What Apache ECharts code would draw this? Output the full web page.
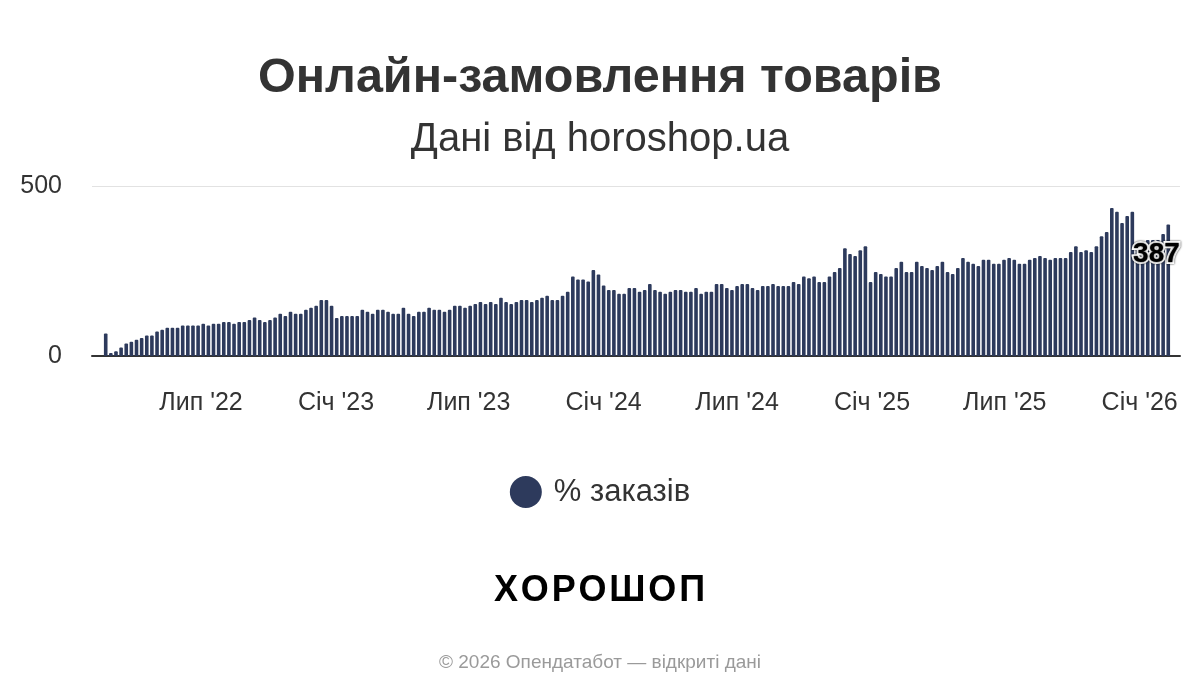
<!DOCTYPE html>
<html>
<head>
<meta charset="utf-8">
<script src="https://cdn.jsdelivr.net/npm/echarts@6/dist/echarts.min.js"></script>
<style>
  html, body { margin: 0; padding: 0; background: #fff; }
  #chart { width: 1200px; height: 700px; }
</style>
</head>
<body>
<div id="chart"></div>
<script>
// ---- Data ----
const titleText = 'Онлайн-замовлення товарів';
const subtitleText = 'Дані від horoshop.ua';
const seriesName = '% заказів';
const logoText = 'ХОРОШОП';
const footerText = '© 2026 Опендатабот — відкриті дані';
const firstWeek = [2022, 1, 21]; // year, monthIndex, day of first weekly bar
const orderValues = [
  66, 9, 14, 25, 37, 42, 48, 53, 60, 60,
  72, 77, 83, 83, 83, 90, 90, 90, 90, 95,
  90, 95, 95, 100, 100, 95, 100, 100, 106, 113,
  106, 100, 106, 113, 124, 118, 130, 124, 124, 136,
  142, 148, 165, 165, 148, 112, 118, 118, 118, 118,
  136, 130, 124, 136, 136, 130, 124, 124, 142, 124,
  118, 130, 130, 142, 136, 136, 130, 136, 148, 148,
  142, 148, 153, 159, 153, 159, 153, 171, 159, 153,
  159, 165, 165, 159, 165, 171, 177, 165, 165, 177,
  189, 234, 225, 225, 219, 253, 240, 207, 194, 194,
  183, 183, 200, 200, 189, 194, 212, 194, 189, 183,
  189, 194, 194, 189, 189, 200, 183, 189, 189, 212,
  212, 200, 194, 206, 212, 212, 200, 194, 206, 206,
  212, 206, 206, 206, 218, 212, 234, 229, 234, 218,
  218, 234, 247, 259, 317, 300, 294, 311, 323, 218,
  247, 241, 234, 234, 259, 277, 247, 247, 277, 265,
  259, 253, 265, 277, 247, 241, 259, 288, 277, 271,
  265, 283, 283, 271, 271, 283, 288, 283, 271, 271,
  283, 288, 294, 288, 283, 288, 288, 288, 306, 323,
  306, 311, 306, 323, 352, 365, 435, 424, 391, 412,
  424, 322, 328, 341, 341, 341, 359, 387
];
const tickDates = [[2022,6,1],[2023,0,1],[2023,6,1],[2024,0,1],[2024,6,1],[2025,0,1],[2025,6,1],[2026,0,1]];
const tickLabels = ["Лип '22", "Січ '23", "Лип '23", "Січ '24", "Лип '24", "Січ '25", "Лип '25", "Січ '26"];
const yTicks = [0, 500];

// ---- Build ----
const DAY = 86400000;
const weekDates = orderValues.map((_, i) => Date.UTC(firstWeek[0], firstWeek[1], firstWeek[2] + 7 * i));
const tickTs = tickDates.map(d => Date.UTC(d[0], d[1], d[2]));
const lastIdx = orderValues.length - 1;
const FONT = 'Liberation Sans';
const BAR_COLOR = '#2d3a5c';

const barData = orderValues.map((v, i) => {
  const item = { value: [weekDates[i], v] };
  if (i === lastIdx) {
    item.label = {
      show: true,
      position: [-10, 30],
      align: 'center',
      verticalAlign: 'middle',
      formatter: String(v),
      fontFamily: FONT,
      fontWeight: 'bold',
      fontSize: 28,
      color: '#000',
      textBorderColor: '#fff',
      textBorderWidth: 4,
      textShadowColor: 'rgba(0,0,0,0.9)',
      textShadowBlur: 2
    };
  }
  return item;
});

// Logo: letters spread evenly across a fixed span
const logoFont = 'bold 36px "Liberation Sans"';
const ctx = document.createElement('canvas').getContext('2d');
ctx.font = logoFont;
const logoLetters = logoText.split('');
const widths = logoLetters.map(ch => ctx.measureText(ch).width);
const spanL = 494, spanR = 705;
const gap = (spanR - spanL - widths.reduce((a, b) => a + b, 0)) / (logoLetters.length - 1);
let cx = spanL;
const logoEls = logoLetters.map((ch, i) => {
  const el = {
    type: 'text', x: cx, y: 591,
    style: { text: ch, fontFamily: FONT, fontWeight: 'bold', fontSize: 36, fill: '#000', textAlign: 'left', textVerticalAlign: 'middle' }
  };
  cx += widths[i] + gap;
  return el;
});

const chart = echarts.init(document.getElementById('chart'), null, { renderer: 'canvas' });
chart.setOption({
  backgroundColor: '#fff',
  animation: false,
  grid: { left: 92, right: 20, top: 186, bottom: 344, containLabel: false },
  legend: {
    data: [seriesName],
    left: 'center',
    top: 471,
    icon: 'circle',
    itemWidth: 32,
    itemHeight: 32,
    textStyle: { fontFamily: FONT, fontSize: 31, color: '#333', padding: [0, 0, 0, 7] }
  },
  xAxis: {
    type: 'value',
    min: weekDates[0] - 18.7 * DAY,
    max: weekDates[lastIdx] + 16 * DAY,
    axisLine: { show: true, lineStyle: { color: '#333', width: 2 } },
    axisTick: { show: false },
    splitLine: { show: false },
    axisLabel: {
      customValues: tickTs,
      formatter: function (val) {
        const k = tickTs.indexOf(val);
        return k >= 0 ? tickLabels[k] : '';
      },
      fontFamily: FONT,
      fontSize: 25,
      color: '#333',
      margin: 35
    }
  },
  yAxis: {
    type: 'value',
    min: yTicks[0],
    max: yTicks[1],
    interval: 500,
    axisLine: { show: false },
    axisTick: { show: false },
    splitLine: { show: true, lineStyle: { color: '#e2e2e2', width: 1 } },
    axisLabel: { fontFamily: FONT, fontSize: 25, color: '#333', margin: 30, padding: [3, 0, 0, 0] }
  },
  series: [{
    name: seriesName,
    type: 'bar',
    data: barData,
    barWidth: 3.6,
    itemStyle: { color: BAR_COLOR, borderRadius: [1, 1, 0, 0] },
    z: 2
  }],
  graphic: [
    {
      type: 'text', x: 600, y: 79,
      style: { text: titleText, fontFamily: FONT, fontWeight: 'bold', fontSize: 48.5, fill: '#333', textAlign: 'center', textVerticalAlign: 'middle' }
    },
    {
      type: 'text', x: 600, y: 140,
      style: { text: subtitleText, fontFamily: FONT, fontSize: 40, fill: '#333', textAlign: 'center', textVerticalAlign: 'middle' }
    },
    ...logoEls,
    {
      type: 'text', x: 600, y: 663,
      style: { text: footerText, fontFamily: FONT, fontSize: 19, fill: '#9a9a9a', textAlign: 'center', textVerticalAlign: 'middle' }
    }
  ]
});
</script>
</body>
</html>
